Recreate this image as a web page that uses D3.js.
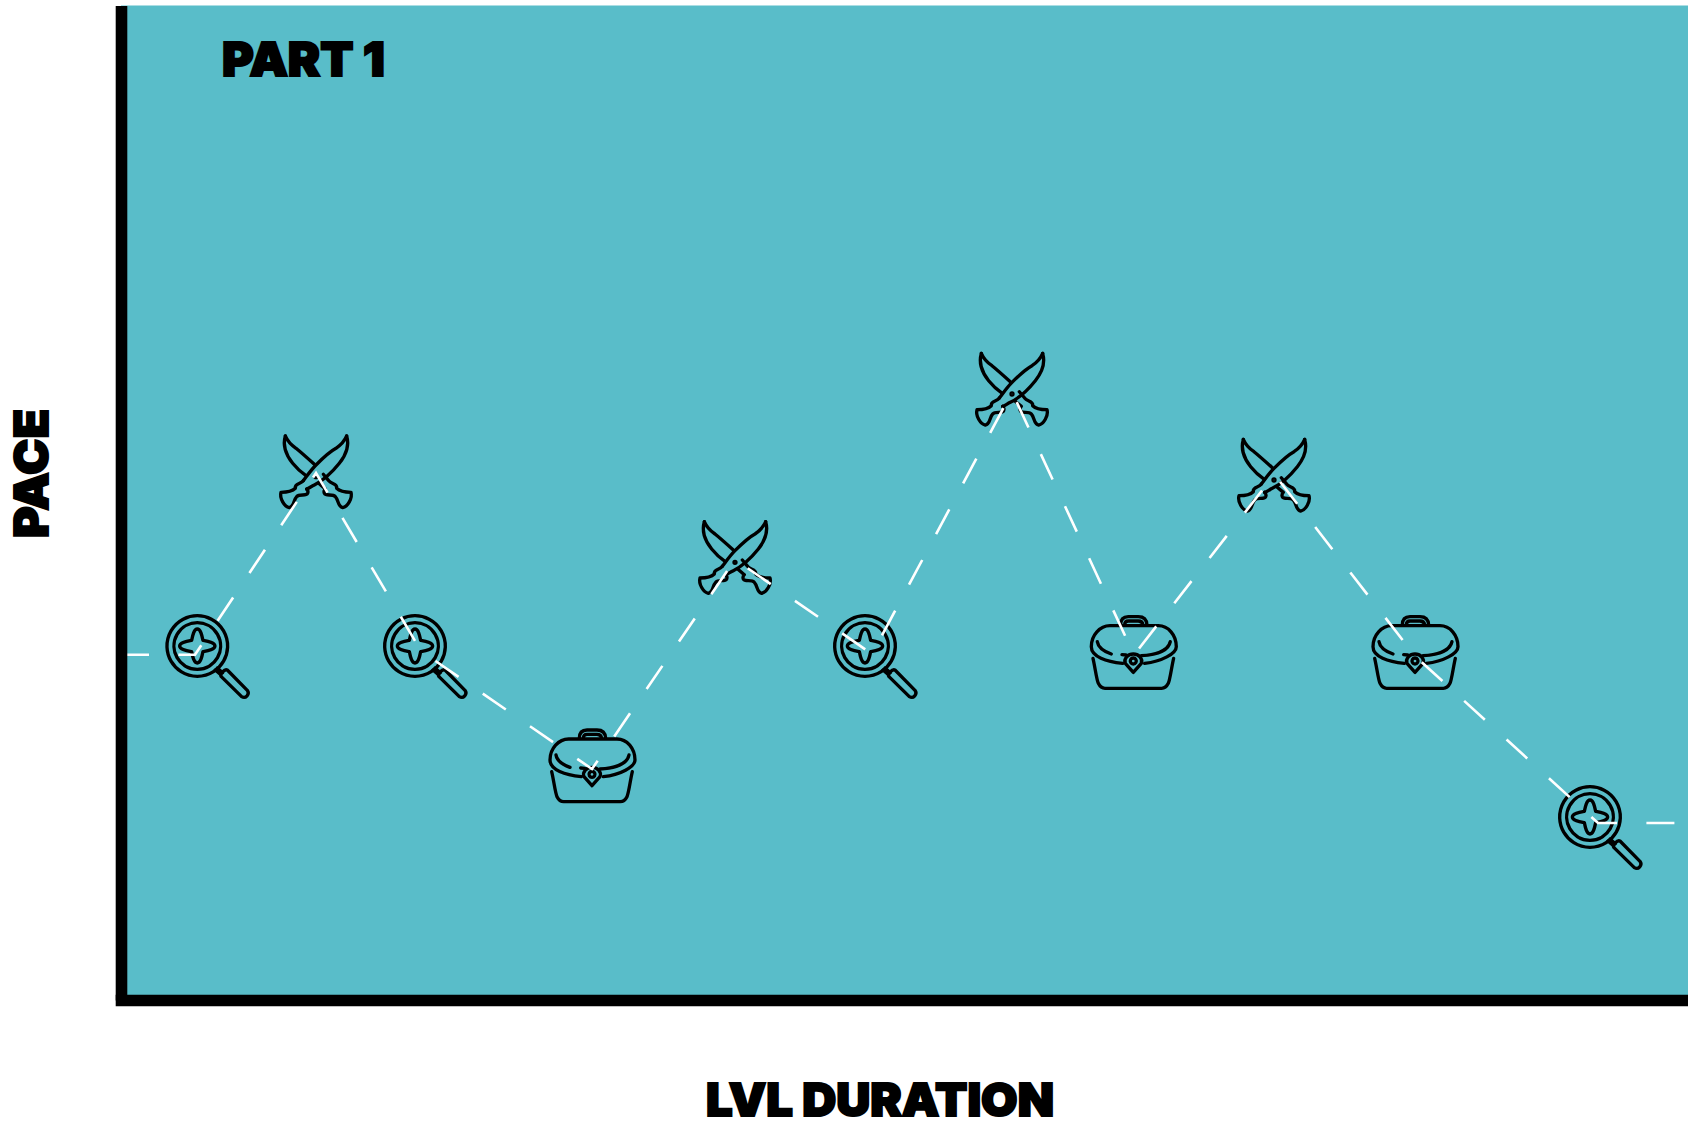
<!DOCTYPE html>
<head>
<meta charset="utf-8">
<script src="https://d3js.org/d3.v7.min.js"></script>
<style>
body { margin:0; background:#fff; overflow:hidden; }
svg { display:block; }
text { font-family:Inter, "Open Sans", sans-serif; font-weight:900; fill:#000; stroke:#000; stroke-width:2px; }
.icon path, .icon circle { fill:none; stroke:#000; stroke-width:10; stroke-linecap:round; stroke-linejoin:round; }
</style>
</head>
<body>
<script>

// dashed path through the level: duration / pace
var pathDuration = [0, 7.4, 19.5, 30, 47.1, 61.4, 75.1, 89.1, 101.3, 115.35, 129.4, 147.7, 156.7];
var pathPace = [34.53, 34.53, 52.7, 34.9, 23.1, 44.05, 34.6, 60.8, 34.5, 52.55, 34.4, 17.7, 17.7];

// the events sitting on it
var eventTypes = ["search", "combat", "search", "treasure", "combat", "search", "combat", "treasure", "combat", "treasure", "search"];
var eventDuration = [7.63, 19.5, 29.4, 47.1, 61.4, 74.4, 89.1, 101.23, 115.3, 129.4, 146.9];
var eventPace = [35.4, 53.17, 35.4, 23, 44.6, 35.4, 61.43, 34.33, 52.83, 34.33, 18.3];

var xLabel = "LVL DURATION",
  yLabel = "PACE",
  partLabel = "PART 1";

var width = 1688,
  height = 1124;

var x = d3.scaleLinear().domain([0, 156.7]).range([121, 1688]);
var y = d3.scaleLinear().domain([0, 99.45]).range([1000, 5.5]);

var svg = d3.select("body").append("svg")
  .attr("width", width)
  .attr("height", height);

svg.append("rect")
  .attr("x", x(0))
  .attr("y", y(99.45))
  .attr("width", x(156.7) - x(0))
  .attr("height", y(0) - y(99.45))
  .style("fill", "#59bdc9");

// icons are drawn in 3x units around their anchor
var icons = {
  search: [
    "M0,-91 A91,91 0 1,1 -0.01,-91Z",
    "M0,-70 A70,70 0 1,1 -0.01,-70Z",
    "M0,-51 C10,-51 14,-32 17,-17 C32,-14 53,-10 53,0 C53,10 32,14 17,17 C14,32 10,51 0,51 C-10,51 -14,32 -17,17 C-32,14 -53,10 -53,0 C-53,-10 -32,-14 -17,-17 C-14,-32 -10,-51 0,-51Z",
    "M60,66 L76,80 M54,72 L68,84",
    "M90,72 L150,133 A13,13 0 0,1 133,152 L72,92 C66,84 82,68 90,72Z"
  ],
  treasure: [
    "M-38,-95 C-38,-115 -28,-120 -15,-120 L15,-120 C28,-120 40,-115 41,-95",
    "M-26,-95 C-26,-103 -22,-107 -15,-107 L15,-107 C24,-107 28,-103 29,-95",
    "M-32,20 C-80,15 -126,0 -126,-30 C-126,-65 -100,-93 -70,-93 L75,-93 C105,-93 129,-65 129,-30 C129,-10 85,15 34,20",
    "M-108,-45 C-105,-25 -85,-15 -66,-8",
    "M111,-45 C105,-15 60,-5 24,-3",
    "M-34,-6 L-22,-5",
    "M0,47 L-24,20 C-30,5 -15,-8 0,-8 C15,-8 30,5 24,20Z",
    "M0,4 A9,9 0 1,1 -0.01,4Z",
    "M-121,5 C-115,30 -110,70 -105,80 C-100,90 -95,95 -85,95 L85,95 C95,95 100,90 105,80 C110,70 115,30 121,5"
  ],
  combat: [
    // back blade
    "M-92,-97 C-100,-70 -90,-40 -70,-15 C-58,0 -45,12 -30,22",
    "M-92,-97 C-85,-80 -75,-70 -60,-60 C-45,-48 -25,-30 -5,-12",
    "M22,18 L38,37 C45,48 65,45 62,60 C70,68 80,72 105,72 C110,90 95,115 80,118 C65,115 68,95 58,85 C50,75 30,85 25,75 C22,68 26,64 28,62 L8,45",
    // front blade
    "M92,-97 C100,-70 90,-40 70,-15 C50,10 25,35 -5,50 C-15,55 -22,60 -28,62",
    "M92,-97 C85,-80 75,-70 60,-60 C45,-52 25,-35 0,-10 C-15,5 -25,20 -38,37",
    "M-38,37 C-45,48 -65,45 -62,60 C-70,68 -80,72 -105,72 C-110,90 -95,115 -80,118 C-65,115 -68,95 -58,85 C-50,75 -30,85 -25,75 C-22,68 -26,64 -28,62"
  ]
};

var event = svg.append("g")
  .selectAll("g")
  .data(eventTypes)
  .enter().append("g")
  .attr("class", "icon")
  .attr("transform", function(d, i) {
    return "translate(" + x(eventDuration[i]) + "," + y(eventPace[i]) + ") scale(0.3333)";
  });

event.selectAll("path")
  .data(function(d) { return icons[d]; })
  .enter().append("path")
  .attr("d", function(d) { return d; });

// rivet on the swords
event.filter(function(d) { return d == "combat"; })
  .append("circle")
  .attr("cy", 25)
  .attr("r", 3)
  .style("fill", "#000");

var line = d3.line()
  .x(function(d) { return x(d); })
  .y(function(d, i) { return y(pathPace[i]); });

svg.append("path")
  .attr("d", line(pathDuration))
  .style("fill", "none")
  .style("stroke", "#fff")
  .style("stroke-width", 2.6)
  .style("stroke-dasharray", "28,29.4");

// axes: heavy black lines, no ticks
var xAxis = svg.append("g")
  .attr("transform", "translate(0," + y(0) + ")")
  .call(d3.axisBottom(x).tickValues([]).tickSizeOuter(0));
var yAxis = svg.append("g")
  .attr("transform", "translate(" + x(0) + ",0)")
  .call(d3.axisLeft(y).tickValues([]).tickSizeOuter(0));

xAxis.select(".domain").style("stroke", "#000").style("stroke-width", 11.6).style("stroke-linecap", "square");
yAxis.select(".domain").style("stroke", "#000").style("stroke-width", 11.6);

svg.append("text")
  .attr("x", 222)
  .attr("y", 76)
  .attr("textLength", 163)
  .attr("lengthAdjust", "spacingAndGlyphs")
  .style("font-size", "47px")
  .text(partLabel);

svg.append("text")
  .attr("x", 706)
  .attr("y", 1116)
  .attr("textLength", 348)
  .attr("lengthAdjust", "spacingAndGlyphs")
  .style("font-size", "46px")
  .text(xLabel);

svg.append("text")
  .attr("transform", "translate(48,538) rotate(-90)")
  .attr("textLength", 129)
  .attr("lengthAdjust", "spacingAndGlyphs")
  .style("font-size", "47px")
  .text(yLabel);

</script>
</body>
